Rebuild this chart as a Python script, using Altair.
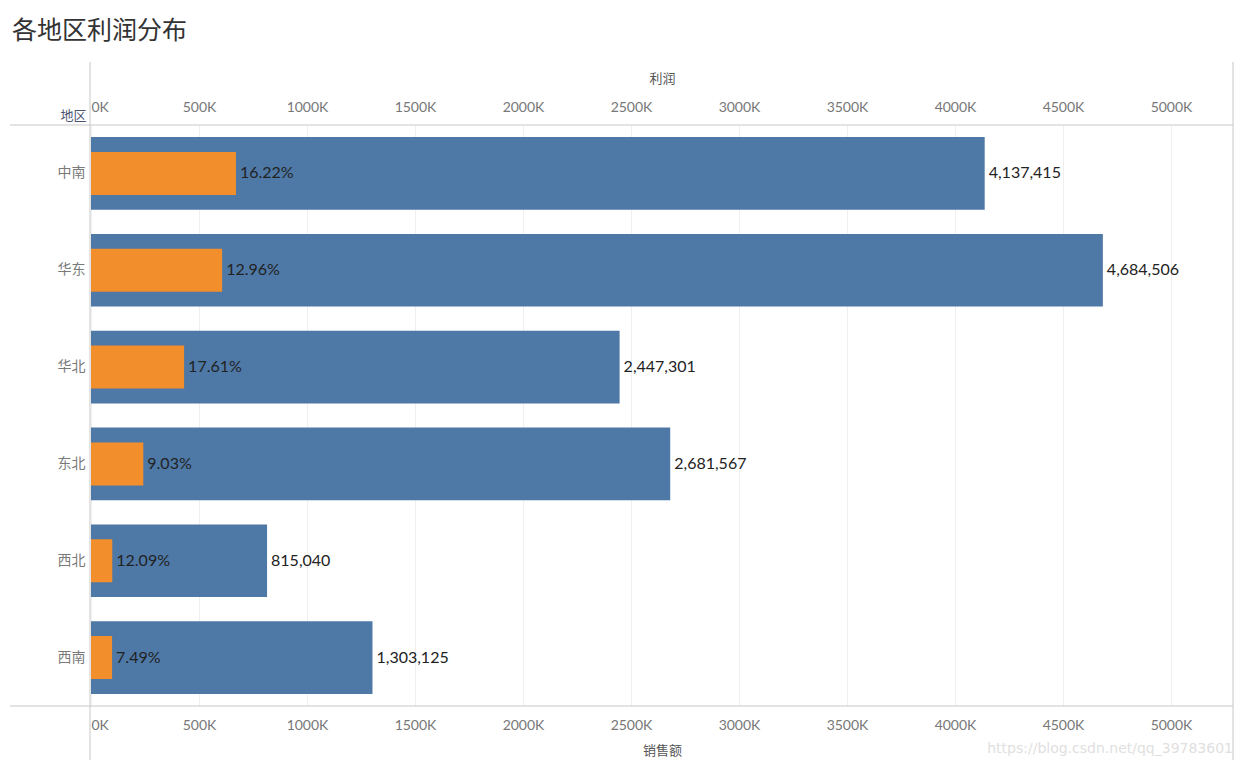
import altair as alt
import pandas as pd

regions = ["中南", "华东", "华北", "东北", "西北", "西南"]
sales = [4137415, 4684506, 2447301, 2681567, 815040, 1303125]
profit = [671000, 607100, 431000, 242100, 98500, 97600]
ratio_labels = ["16.22%", "12.96%", "17.61%", "9.03%", "12.09%", "7.49%"]
tick_values = [0, 500000, 1000000, 1500000, 2000000, 2500000, 3000000, 3500000,
               4000000, 4500000, 5000000]

df = pd.DataFrame({"地区": regions, "销售额": sales, "利润": profit, "利润率": ratio_labels})
one = pd.DataFrame({"k": [0]})

W, H = 1142, 581
CJK = "Noto Sans CJK SC"
NUM = "Lato"
DOMAIN = [0, 5287000]

y_enc = alt.Y("地区:N", sort=regions,
              scale=alt.Scale(paddingInner=0.25, paddingOuter=0.125),
              axis=alt.Axis(title="地区", titleAngle=0, titleAlign="right", titleBaseline="bottom",
                            titleX=-5, titleY=-3, titleFont=CJK, titleFontSize=13,
                            titleFontWeight="normal", titleColor="#4a5470",
                            labelFont=CJK, labelFontSize=14, labelColor="#7a7a7a",
                            labelPadding=6, ticks=False, domain=False, grid=False))

label_expr = "format(datum.value / 1000, 'd') + 'K'"

blue = alt.Chart(df).mark_bar(color="#4e79a7").encode(
    x=alt.X("销售额:Q", scale=alt.Scale(domain=DOMAIN, nice=False),
            axis=alt.Axis(orient="bottom", title="销售额", values=tick_values, labelExpr=label_expr,
                          labelFlush=True, labelFont=NUM, labelFontSize=14, labelColor="#777777",
                          labelPadding=12, ticks=False, tickSize=0, domain=False,
                          grid=True, gridColor="#efefef",
                          titleFont=CJK, titleFontSize=13, titleFontWeight="normal",
                          titleColor="#555555", titlePadding=12)),
    y=y_enc,
)

orange = alt.Chart(df).mark_bar(color="#f28e2b", size=43).encode(
    x=alt.X("利润:Q", scale=alt.Scale(domain=DOMAIN, nice=False),
            axis=alt.Axis(orient="top", title="利润", values=tick_values, labelExpr=label_expr,
                          labelFlush=True, labelFont=NUM, labelFontSize=14, labelColor="#777777",
                          labelPadding=11, ticks=False, tickSize=0, domain=False, grid=False,
                          titleFont=CJK, titleFontSize=13, titleFontWeight="normal",
                          titleColor="#555555", titlePadding=15)),
    y=y_enc,
)

blue_text = alt.Chart(df).mark_text(align="left", baseline="middle", dx=4, font=NUM,
                                    fontSize=16, color="#222222").encode(
    x=alt.X("销售额:Q", axis=None, scale=alt.Scale(domain=DOMAIN, nice=False)),
    y=y_enc,
    text=alt.Text("销售额:Q", format=","),
)

orange_text = alt.Chart(df).mark_text(align="left", baseline="middle", dx=4, font=NUM,
                                      fontSize=16, color="#222222").encode(
    x=alt.X("利润:Q", axis=None, scale=alt.Scale(domain=DOMAIN, nice=False)),
    y=y_enc,
    text="利润率:N",
)

line_color = "#c8c8c8"
top_line = alt.Chart(one).mark_rule(color=line_color, strokeWidth=1).encode(
    x=alt.value(-81), x2=alt.value(W), y=alt.value(0))
bottom_line = alt.Chart(one).mark_rule(color=line_color, strokeWidth=1).encode(
    x=alt.value(-81), x2=alt.value(W), y=alt.value(H))
left_line = alt.Chart(one).mark_rule(color=line_color, strokeWidth=1).encode(
    x=alt.value(-1), y=alt.value(-63), y2=alt.value(H + 70))
right_line = alt.Chart(one).mark_rule(color=line_color, strokeWidth=1).encode(
    x=alt.value(W), y=alt.value(-63), y2=alt.value(H + 70))

watermark = alt.Chart(one).mark_text(align="right", baseline="middle", font="DejaVu Sans",
                                     fontSize=14, color="#e0e0e0").encode(
    x=alt.value(W), y=alt.value(H + 43), text=alt.value("https://blog.csdn.net/qq_39783601"))

chart = alt.layer(
    blue, orange, blue_text, orange_text,
    top_line, bottom_line, left_line, right_line, watermark
).resolve_axis(x="independent").properties(
    width=W, height=H,
    title=alt.TitleParams("各地区利润分布", anchor="start", frame="group", dx=-79, offset=18,
                          font=CJK, fontSize=25, fontWeight="normal", color="#333333"),
    autosize=alt.AutoSizeParams(type="none"),
    padding={"left": 83, "top": 117, "right": 1, "bottom": 54},
).configure_view(stroke=None)

chart.save("out.html", embed_options={"renderer": "svg", "actions": False})
